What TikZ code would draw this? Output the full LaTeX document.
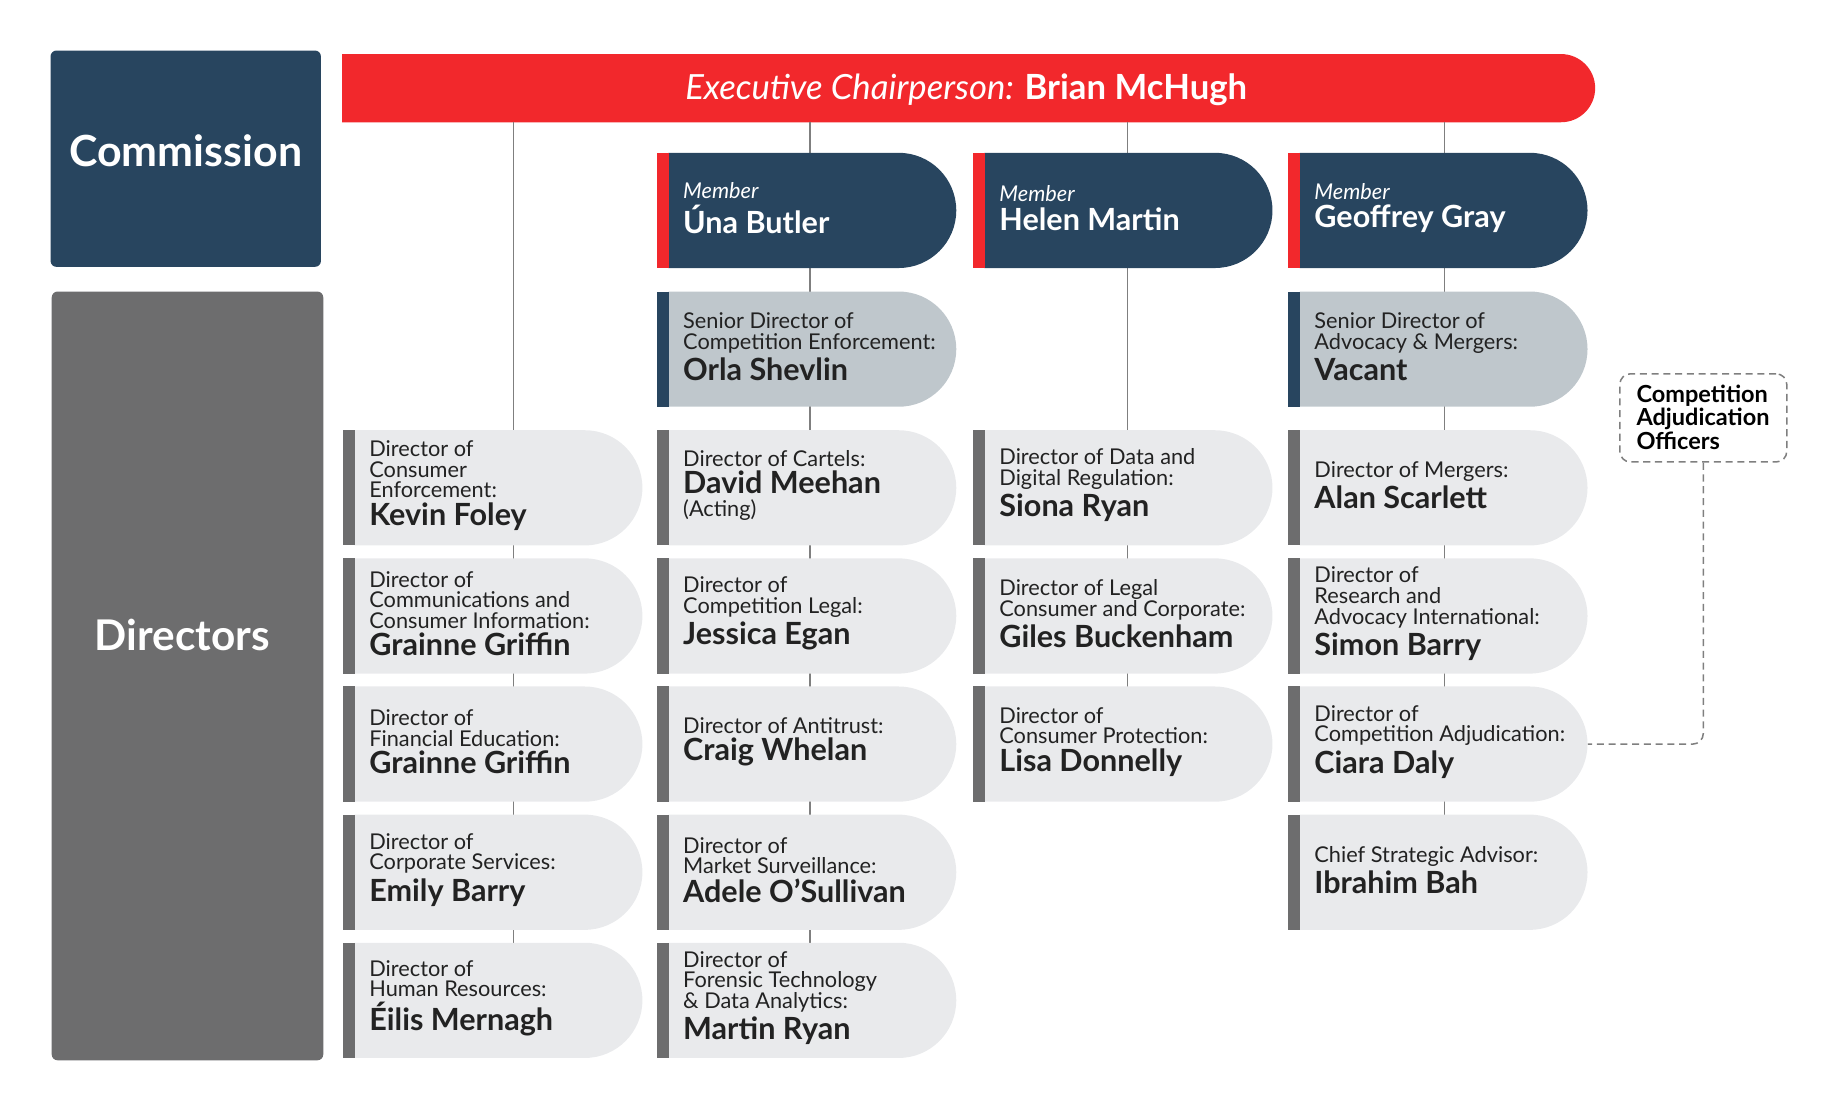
\documentclass[tikz,border=0pt]{standalone}
\usepackage{fontspec}
\setmainfont{Lato}
\usetikzlibrary{shapes.misc}
\definecolor{navy}{HTML}{28455F}
\definecolor{ored}{HTML}{F2282C}
\definecolor{dgray}{HTML}{6D6D6E}
\definecolor{lfill}{HTML}{E9EAEC}
\definecolor{sfill}{HTML}{BFC7CC}
\definecolor{ink}{HTML}{222222}
\definecolor{lgray}{HTML}{7F7F7F}
\newcommand\nmfont{\fontsize{26}{27}\selectfont\bfseries}
\newcommand\tx[2]{#1\\[3pt]{\nmfont #2}}
\newcommand\obox[7]{%
  \node[box,fill=#5] (#1) at ({#2+132},{#3+49}) {};
  \fill[#4] (#2,#3) rectangle ({#2+10},{#3+98});
  \node[anchor=west,align=left,text=#7,font=\fontsize{18.5}{17.5}\selectfont,inner sep=0] (#1t) at ({#2+22},{#3+47}) {#6};}
\begin{document}
\begin{tikzpicture}[x=1pt,y=-1pt,
  box/.style={rounded rectangle,rounded rectangle left arc=none,minimum width=245pt,minimum height=98pt,inner sep=0,draw=none},
  conn/.style={draw=lgray,line width=1.3pt}]
\useasboundingbox (0,0) rectangle (1567,945);
% header
\node[rounded rectangle,rounded rectangle left arc=none,fill=ored,minimum width=1066pt,minimum height=58pt,inner sep=0] (bar) at (824,75) {};
\node[text=white,font=\fontsize{29.5}{30}\selectfont] (bart) at (822,76) {\itshape Executive Chairperson: \bfseries\upshape Brian McHugh};
\node[fill=navy,rounded corners=5pt,minimum width=230pt,minimum height=184pt,inner sep=0] (comm) at (158,135) {};
\node[text=white,font=\fontsize{36.5}{37}\selectfont\bfseries] (commt) at (158,128) {Commission};
\node[fill=dgray,rounded corners=5pt,minimum width=231pt,minimum height=654pt,inner sep=0] (dirs) at (159.5,575) {};
\node[text=white,font=\fontsize{36}{36}\selectfont\bfseries] (dirst) at (155,540) {Directors};
% connectors (behind boxes)
\coordinate (c1) at (437,104); \coordinate (c2) at (689,104);
\coordinate (c3) at (959,104); \coordinate (c4) at (1229,104);
\coordinate (e1) at (437,830); \coordinate (e2) at (689,830);
\coordinate (e3) at (959,610); \coordinate (e4) at (1229,720);
\draw[conn] (c1) -- (e1); \draw[conn] (c2) -- (e2);
\draw[conn] (c3) -- (e3); \draw[conn] (c4) -- (e4);
% members
\obox{m2}{559}{130}{ored}{navy}{{\itshape Member}\\[4pt]{\nmfont Úna Butler}}{white}
\obox{m3}{828}{130}{ored}{navy}{{\itshape Member}\\[4pt]{\nmfont Helen Martin}}{white}
\obox{m4}{1096}{130}{ored}{navy}{{\itshape Member}\\[4pt]{\nmfont Geoffrey Gray}}{white}
% senior
\obox{s2}{559}{248}{navy}{sfill}{\tx{Senior Director of\\Competition Enforcement:}{Orla Shevlin}}{ink}
\obox{s4}{1096}{248}{navy}{sfill}{\tx{Senior Director of\\Advocacy \& Mergers:}{Vacant}}{ink}
% column 1
\obox{d11}{292}{366}{dgray}{lfill}{\tx{Director of\\Consumer\\Enforcement:}{Kevin Foley}}{ink}
\obox{d12}{292}{475}{dgray}{lfill}{\tx{Director of\\Communications and\\Consumer Information:}{Grainne Griffin}}{ink}
\obox{d13}{292}{584}{dgray}{lfill}{\tx{Director of\\Financial Education:}{Grainne Griffin}}{ink}
\obox{d14}{292}{693}{dgray}{lfill}{\tx{Director of\\Corporate Services:}{Emily Barry}}{ink}
\obox{d15}{292}{802}{dgray}{lfill}{\tx{Director of\\Human Resources:}{Éilis Mernagh}}{ink}
% column 2
\obox{d21}{559}{366}{dgray}{lfill}{\tx{Director of Cartels:}{David Meehan}\\[2pt](Acting)}{ink}
\obox{d22}{559}{475}{dgray}{lfill}{\tx{Director of\\Competition Legal:}{Jessica Egan}}{ink}
\obox{d23}{559}{584}{dgray}{lfill}{\tx{Director of Antitrust:}{Craig Whelan}}{ink}
\obox{d24}{559}{693}{dgray}{lfill}{\tx{Director of\\Market Surveillance:}{Adele O’Sullivan}}{ink}
\obox{d25}{559}{802}{dgray}{lfill}{\tx{Director of\\Forensic Technology\\\& Data Analytics:}{Martin Ryan}}{ink}
% column 3
\obox{d31}{828}{366}{dgray}{lfill}{\tx{Director of Data and\\Digital Regulation:}{Siona Ryan}}{ink}
\obox{d32}{828}{475}{dgray}{lfill}{\tx{Director of Legal\\Consumer and Corporate:}{Giles Buckenham}}{ink}
\obox{d33}{828}{584}{dgray}{lfill}{\tx{Director of\\Consumer Protection:}{Lisa Donnelly}}{ink}
% column 4
\obox{d41}{1096}{366}{dgray}{lfill}{\tx{Director of Mergers:}{Alan Scarlett}}{ink}
\obox{d42}{1096}{475}{dgray}{lfill}{\tx{Director of\\Research and\\Advocacy International:}{Simon Barry}}{ink}
\obox{d43}{1096}{584}{dgray}{lfill}{\tx{Director of\\Competition Adjudication:}{Ciara Daly}}{ink}
\obox{d44}{1096}{693}{dgray}{lfill}{\tx{Chief Strategic Advisor:}{Ibrahim Bah}}{ink}
% adjudication officers
\node[draw=lgray,dash pattern=on 6pt off 4pt,line width=1.3pt,rounded corners=9pt,minimum width=142pt,minimum height=75pt,inner sep=0] (cao) at (1449,355.5) {};
\node[anchor=west,align=left,font=\fontsize{20}{20}\selectfont\bfseries,inner sep=0] (caot) at (1392,355) {Competition\\Adjudication\\Officers};
\draw[conn,dash pattern=on 6pt off 4pt,rounded corners=9pt] (cao.south) |- (d43.east);
\end{tikzpicture}
\end{document}
